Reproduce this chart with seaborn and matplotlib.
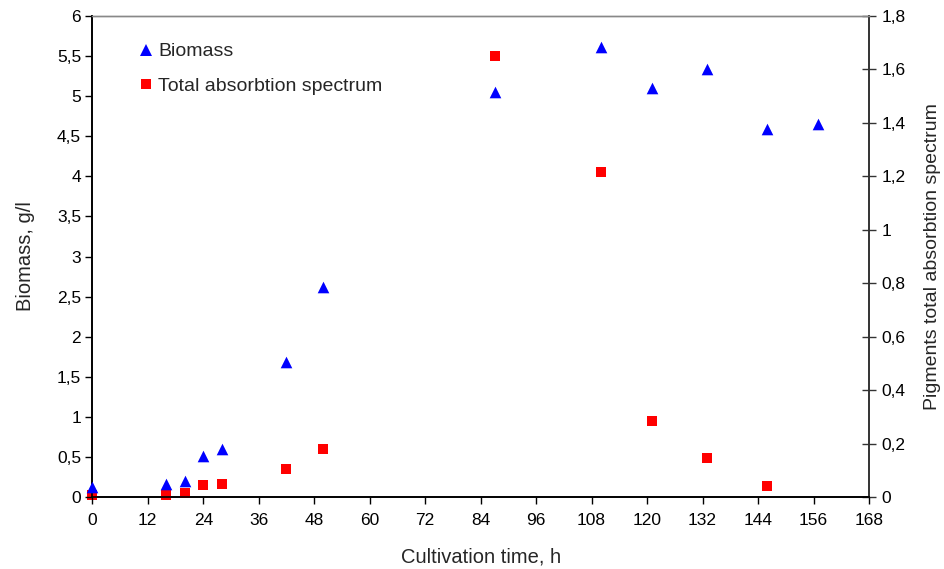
import matplotlib
matplotlib.use("Agg")
import matplotlib.pyplot as plt
from matplotlib.ticker import FuncFormatter, MultipleLocator
from matplotlib.lines import Line2D
import seaborn as sns
import pandas as pd

# ---- data ----
biomass_time = [0, 16, 20, 24, 28, 42, 50, 87, 110, 121, 133, 146, 157]
biomass_gl = [0.13, 0.17, 0.20, 0.52, 0.60, 1.69, 2.62, 5.05, 5.61, 5.10, 5.33, 4.59, 4.65]
spectrum_time = [0, 16, 20, 24, 28, 42, 50, 87, 110, 121, 133, 146]
spectrum_abs = [0.01, 0.01, 0.015, 0.046, 0.051, 0.106, 0.179, 1.65, 1.215, 0.285, 0.146, 0.044]

x_ticks = list(range(0, 169, 12))
series_labels = ["Biomass", "Total absorbtion spectrum"]
x_label = "Cultivation time, h"
y_label_left = "Biomass, g/l"
y_label_right = "Pigments total absorbtion spectrum"

sns.set_style("white")
plt.rcParams["font.family"] = ["Liberation Sans", "DejaVu Sans"]

df_b = pd.DataFrame({"t": biomass_time, "v": biomass_gl})
df_s = pd.DataFrame({"t": spectrum_time, "v": spectrum_abs})

W, H = 945, 569
fig = plt.figure(figsize=(W / 100, H / 100), dpi=100)
left, right, top, bottom = 92.3, 869.0, 15.7, 497.3
ax = fig.add_axes([left / W, 1 - bottom / H, (right - left) / W, (bottom - top) / H])
ax2 = ax.twinx()

blue = "#0000FF"
red = "#FF0000"

sns.scatterplot(data=df_s, x="t", y="v", ax=ax2, marker="s", s=52, color=red,
                linewidth=0, zorder=3, clip_on=False)
sns.scatterplot(data=df_b, x="t", y="v", ax=ax, marker="^", s=70, color=blue,
                linewidth=0, zorder=3, clip_on=False)

ax.set_zorder(2)
ax.patch.set_visible(False)
ax2.set_zorder(1)

ax.set_xlim(0, 168)
ax.set_ylim(0, 6)
ax2.set_ylim(0, 1.8)
ax.set_xticks(x_ticks)
ax.yaxis.set_major_locator(MultipleLocator(0.5))
ax2.yaxis.set_major_locator(MultipleLocator(0.2))

comma = FuncFormatter(lambda v, p: ("%g" % round(v, 3)).replace(".", ","))
ax.yaxis.set_major_formatter(comma)
ax2.yaxis.set_major_formatter(comma)

fs = 12.5
ax.tick_params(axis="x", direction="out", length=5, width=1, colors="black",
               labelsize=fs, pad=6, bottom=True)
ax.tick_params(axis="y", direction="out", length=5, width=1, colors="black",
               labelsize=fs, pad=3, left=True)
ax2.tick_params(axis="y", direction="inout", length=10, width=1, colors="#333333",
                labelcolor="black", labelsize=fs, pad=4, right=True)

ax.set_xlabel(x_label, fontsize=14.5, labelpad=14)
ax.set_ylabel(y_label_left, fontsize=14.5, labelpad=16)
ax2.set_ylabel(y_label_right, fontsize=14, labelpad=13)

for a in (ax, ax2):
    for s in a.spines.values():
        s.set_linewidth(1.2)
    a.spines["top"].set_color("#888888")
    a.spines["top"].set_linewidth(1.0)
    a.spines["left"].set_color("black")
    a.spines["bottom"].set_color("black")
    a.spines["right"].set_color("#333333")
    a.grid(False)

handles = [
    Line2D([], [], linestyle="none", marker="^", markersize=8.5, color=blue, markeredgewidth=0),
    Line2D([], [], linestyle="none", marker="s", markersize=7.2, color=red, markeredgewidth=0),
]
ax.legend(handles, series_labels, loc="upper left", bbox_to_anchor=(0.047, 0.968),
          frameon=False, fontsize=14, handlelength=0.6, handletextpad=0.3,
          labelspacing=0.85, borderaxespad=0.2)

fig.savefig("out.png", dpi=100)
